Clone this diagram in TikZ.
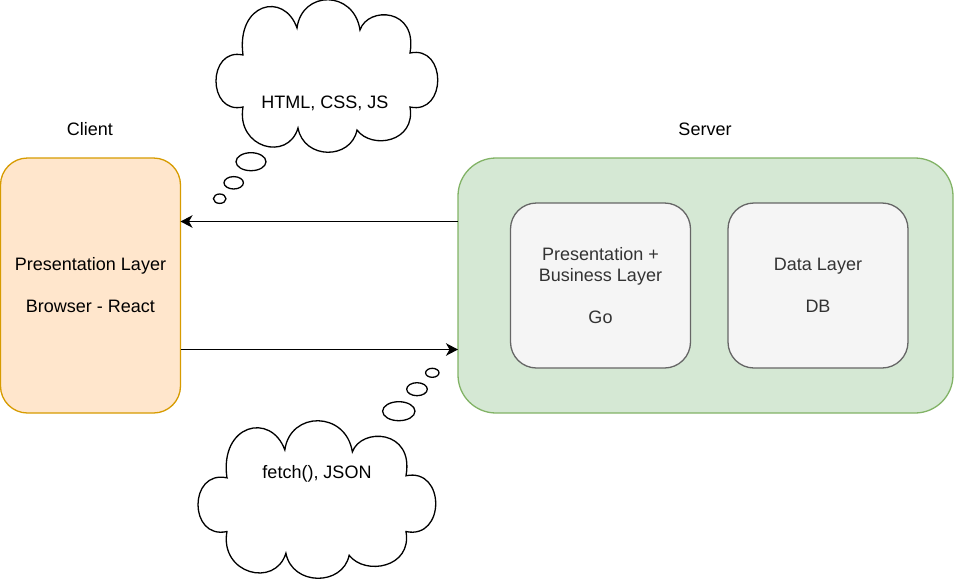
\documentclass[tikz,border=0pt]{standalone}
\usepackage{fontspec}
\setmainfont{Liberation Sans}
\usetikzlibrary{arrows.meta}
\definecolor{clientfill}{HTML}{FFE6CC}
\definecolor{clientdraw}{HTML}{D79B00}
\definecolor{serverfill}{HTML}{D5E8D4}
\definecolor{serverdraw}{HTML}{82B366}
\definecolor{innerfill}{HTML}{F5F5F5}
\definecolor{innerdraw}{HTML}{666666}
\definecolor{innertext}{HTML}{333333}
\newcommand{\cloudshape}{(27,55) .. controls (20,3) and (68,-9) .. (81,28) .. controls (86,-10) and (138,-10) .. (144,30) .. controls (152,6) and (202,8) .. (194,53) .. controls (231,45) and (231,115) .. (194,107) .. controls (200,142) and (156,150) .. (141,130) .. controls (135,160) and (88,160) .. (82,128) .. controls (72,162) and (20,148) .. (27,107) .. controls (-9,115) and (-9,47) .. cycle}
\begin{document}
\begin{tikzpicture}[x=1pt,y=-1pt,
  every node/.style={font=\fontsize{18}{21}\selectfont},
  box/.style={draw, line width=1.3pt, inner sep=0pt, outer sep=0pt, align=center},
  inbox/.style={box, fill=innerfill, draw=innerdraw, text=innertext, minimum width=180pt, minimum height=165pt, rounded corners=26pt},
  cloudline/.style={draw=black, fill=white, line width=1.3pt},
  arr/.style={draw=black, line width=1.3pt, -{Stealth[length=12pt,width=12.5pt,inset=3.5pt]}},
  lbl/.style={inner sep=0pt}
]
\useasboundingbox (0,0) rectangle (954,579);

% labels
\node[lbl] (clientlbl) at (90,129) {Client};
\node[lbl] (serverlbl) at (705,129) {Server};

% client box
\node[box, fill=clientfill, draw=clientdraw, minimum width=180pt, minimum height=255pt, rounded corners=27pt] (client) at (90.5,285.5) {Presentation Layer\\[21pt]Browser - React};

% server box
\node[box, fill=serverfill, draw=serverdraw, minimum width=495pt, minimum height=255pt, rounded corners=38pt] (server) at (705.5,285.5) {};

\node[inbox] (pbl) at (600.5,285.5) {Presentation +\\Business Layer\\[21pt]Go};
\node[inbox] (data) at (818,285.5) {Data Layer\\[21pt]DB};

% arrows
\draw[arr] ([yshift=64pt]server.west) -- ([yshift=64pt]client.east);
\draw[arr] ([yshift=-64pt]client.east) -- ([yshift=-64pt]server.west);

% top cloud
\begin{scope}[shift={(216,0)}]
  \path[cloudline] \cloudshape;
\end{scope}
\node[lbl] (cloudtop) at (325,103) {HTML, CSS, JS};
\path[cloudline] (251,161.7) ellipse [x radius=15pt, y radius=9pt];
\path[cloudline] (233.7,182.8) ellipse [x radius=9.7pt, y radius=6.2pt];
\path[cloudline] (219.7,198.7) ellipse [x radius=6.3pt, y radius=4.7pt];

% bottom cloud
\begin{scope}[shift={(198,421)}, xscale=1.072, yscale=1.033]
  \path[cloudline] \cloudshape;
\end{scope}
\node[lbl] (cloudbot) at (317,474) {fetch(), JSON};
\path[cloudline] (432.3,372.8) ellipse [x radius=6.7pt, y radius=4.5pt];
\path[cloudline] (417,389.2) ellipse [x radius=10.3pt, y radius=6.5pt];
\path[cloudline] (398.8,411.2) ellipse [x radius=16.2pt, y radius=9.5pt];
\end{tikzpicture}
\end{document}
